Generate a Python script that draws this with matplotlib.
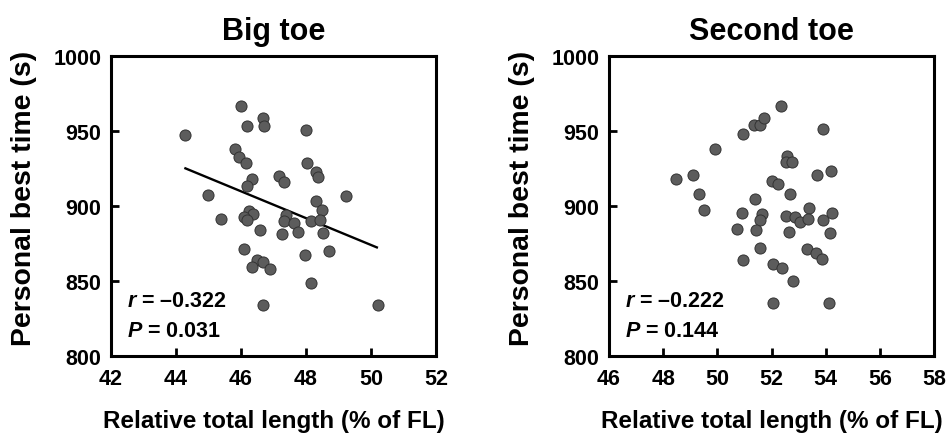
import matplotlib
matplotlib.use("Agg")
import matplotlib.pyplot as plt

plt.rcParams['font.family'] = ['Liberation Sans', 'DejaVu Sans']
plt.rcParams['font.weight'] = 'bold'
plt.rcParams['mathtext.fontset'] = 'custom'
plt.rcParams['mathtext.it'] = 'Liberation Sans:italic:bold'
plt.rcParams['mathtext.rm'] = 'Liberation Sans:bold'
plt.rcParams['mathtext.bf'] = 'Liberation Sans:bold'

# Big toe: relative total length (% of FL) vs personal best time (s)
big_x = [44.29, 46.00, 46.69, 46.72, 46.18, 48.00, 45.83, 45.93, 46.16, 48.03,
         47.16, 47.33, 46.33, 46.18, 48.30, 48.36, 44.99, 49.22, 48.32, 48.49,
         46.25, 46.37, 46.10, 46.18, 45.38, 47.37, 47.32, 47.62, 47.74, 48.15,
         48.44, 48.52, 46.59, 47.26, 46.10, 46.49, 46.67, 46.33, 46.90, 47.97,
         48.71, 48.15, 46.68, 50.23]
big_y = [947.3, 966.7, 958.4, 953.3, 953.6, 950.7, 937.8, 932.4, 928.9, 928.9,
         920.0, 915.8, 917.8, 913.3, 922.9, 919.6, 907.6, 906.9, 903.3, 897.3,
         896.9, 894.7, 892.9, 890.7, 891.3, 894.0, 890.0, 888.4, 882.9, 890.0,
         890.7, 881.8, 884.0, 881.1, 871.1, 864.0, 862.9, 859.6, 858.2, 867.1,
         870.0, 848.9, 833.8, 833.8]
big_fit_x = [44.29, 50.18]
big_fit_y = [925.1, 872.4]

# Second toe
sec_x = [48.47, 49.09, 49.33, 49.51, 49.93, 50.95, 51.37, 51.59, 51.74, 52.36,
         52.57, 52.54, 52.75, 53.90, 53.67, 54.19, 52.00, 52.23, 52.67, 51.40,
         50.90, 51.64, 51.57, 50.74, 51.42, 52.54, 52.88, 53.04, 53.37, 53.35,
         53.90, 54.22, 54.15, 52.65, 51.57, 50.93, 52.05, 52.38, 52.80, 53.30,
         53.65, 53.86, 52.06, 54.11]
sec_y = [918.2, 920.7, 908.2, 897.3, 937.8, 947.8, 954.0, 954.0, 958.9, 966.9,
         933.3, 929.6, 929.1, 951.1, 920.7, 923.6, 916.9, 914.7, 907.8, 904.4,
         895.6, 894.7, 890.7, 884.7, 883.8, 893.6, 892.9, 889.6, 898.4, 891.3,
         890.7, 895.6, 881.8, 882.9, 871.8, 864.0, 861.1, 858.4, 850.2, 871.1,
         868.4, 864.7, 835.1, 835.1]

big_ticks = [42, 44, 46, 48, 50, 52]
sec_ticks = [46, 48, 50, 52, 54, 56, 58]
y_ticks = [800, 850, 900, 950, 1000]

W, H = 951, 439
fig = plt.figure(figsize=(W / 100, H / 100), dpi=100)
ax1 = fig.add_axes([111 / W, 1 - 357 / H, 325 / W, 300 / H])
ax2 = fig.add_axes([609 / W, 1 - 357 / H, 325 / W, 300 / H])

panels = [
    (ax1, big_x, big_y, big_ticks, 'Big toe', '\u20130.322', '0.031'),
    (ax2, sec_x, sec_y, sec_ticks, 'Second toe', '\u20130.222', '0.144'),
]

for ax, xs, ys, xt, title, rval, pval in panels:
    ax.scatter(xs, ys, s=64, facecolor='#5c5c5c', edgecolor='#333333',
               linewidth=0.7, zorder=3)
    ax.set_xlim(xt[0], xt[-1])
    ax.set_ylim(800, 1000)
    ax.set_xticks(xt)
    ax.set_yticks(y_ticks)
    ax.tick_params(direction='in', length=5.5, width=2, labelsize=15.5,
                   top=False, right=False)
    ax.tick_params(axis='x', pad=9)
    ax.tick_params(axis='y', pad=7)
    for sp in ax.spines.values():
        sp.set_linewidth(2.2)
    ax.set_title(title, fontsize=22, fontweight='bold', pad=12)
    ax.set_xlabel('Relative total length (% of FL)', fontsize=17.5,
                  fontweight='bold', labelpad=14)
    ax.set_ylabel('Personal best time (s)', fontsize=20.4, fontweight='bold')
    ax.yaxis.set_label_coords(-0.228, 0.53)
    ax.text(0.05, 0.166, r'$r$ = ' + rval, transform=ax.transAxes,
            fontsize=15.5, fontweight='bold', va='baseline')
    ax.text(0.05, 0.066, r'$P$ = ' + pval, transform=ax.transAxes,
            fontsize=15.5, fontweight='bold', va='baseline')

ax1.plot(big_fit_x, big_fit_y, color='black', linewidth=1.7, zorder=2)

fig.savefig('out.png', dpi=100)
